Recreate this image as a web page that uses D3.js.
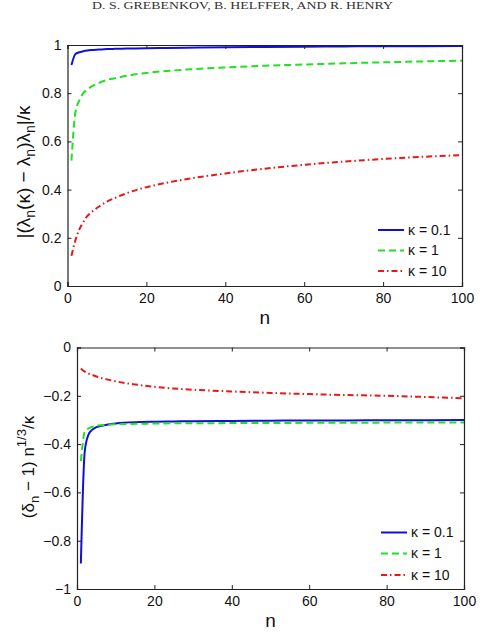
<!DOCTYPE html>
<html><head><meta charset="utf-8">
<script src="https://cdn.jsdelivr.net/npm/d3@7"></script>
<style>body{margin:0;background:#fff}svg{display:block}</style>
</head><body>
<svg id="c" width="483" height="636"></svg>
<script>
const nVals = [1,2,3,4,5,6,8,10,12,15,20,25,30,40,50,60,70,80,90,100];
// top panel: |(lambda_n(kappa) - lambda_n) lambda_n| / kappa
const topK01 = [0.917,0.962,0.970,0.974,0.977,0.979,0.981,0.983,0.984,0.985,0.987,0.988,0.989,0.991,0.992,0.993,0.994,0.995,0.995,0.996];
const topK1  = [0.52,0.72,0.77,0.80,0.815,0.827,0.843,0.855,0.862,0.872,0.884,0.892,0.898,0.907,0.914,0.919,0.924,0.928,0.932,0.935];
const topK10 = [0.125,0.19,0.235,0.265,0.29,0.305,0.33,0.35,0.365,0.385,0.41,0.428,0.443,0.467,0.487,0.503,0.516,0.527,0.536,0.543];
// bottom panel: (delta_n - 1) n^{1/3} / kappa
const botK01 = [-0.894,-0.43,-0.36,-0.34,-0.33,-0.325,-0.319,-0.315,-0.312,-0.309,-0.307,-0.306,-0.305,-0.304,-0.303,-0.302,-0.302,-0.301,-0.301,-0.300];
const botK1  = [-0.47,-0.35,-0.335,-0.328,-0.324,-0.322,-0.32,-0.318,-0.317,-0.316,-0.315,-0.314,-0.314,-0.313,-0.313,-0.312,-0.312,-0.311,-0.311,-0.311];
const botK10 = [-0.087,-0.1,-0.108,-0.114,-0.12,-0.125,-0.133,-0.14,-0.146,-0.153,-0.163,-0.17,-0.175,-0.182,-0.188,-0.193,-0.197,-0.2,-0.205,-0.21];
const xTicks = [0,20,40,60,80,100];
const topYTicks = [0,0.2,0.4,0.6,0.8,1];
const botYTicks = [-1,-0.8,-0.6,-0.4,-0.2,0];
const legendLabels = ["κ = 0.1","κ = 1","κ = 10"];
const colors = ["#1010d8","#22e022","#e81818"];
const dashes = [null,"7,4","6,3,1.5,3"];

const svg = d3.select("#c");
const font = "'Liberation Sans', Arial, sans-serif";

svg.append("text").attr("x",242.5).attr("y",8.5).attr("text-anchor","middle")
  .attr("font-family","'Liberation Serif', serif").attr("font-size",10)
  .attr("textLength",301).attr("lengthAdjust","spacingAndGlyphs").attr("fill","#333")
  .text("D. S. GREBENKOV, B. HELFFER, AND R. HENRY");

function panel(opts){
  const {x0,x1,y0,y1,ydom,yticks,series,yfmt,legY,legX,labelFn} = opts;
  const x = d3.scaleLinear().domain([0,100]).range([x0,x1]);
  const y = d3.scaleLinear().domain(ydom).range([y1,y0]);
  const g = svg.append("g");
  series.forEach((s,i)=>{
    const line = d3.line().x((d,j)=>x(nVals[j])).y(d=>y(d)).curve(d3.curveMonotoneX);
    g.append("path").attr("d",line(s)).attr("fill","none").attr("stroke",colors[i])
      .attr("stroke-width",2).attr("stroke-dasharray",dashes[i]);
  });
  const ax = d3.axisBottom(x).tickValues(xTicks).tickSize(-4).tickPadding(7).tickFormat(d3.format("d"));
  const axT = d3.axisTop(x).tickValues(xTicks).tickSize(-4).tickFormat("");
  const ay = d3.axisLeft(y).tickValues(yticks).tickSize(-4).tickPadding(6).tickFormat(yfmt);
  const ayR = d3.axisRight(y).tickValues(yticks).tickSize(-4).tickFormat("");
  const gx = g.append("g").attr("transform",`translate(0,${y1})`).call(ax);
  g.append("g").attr("transform",`translate(0,${y0})`).call(axT);
  g.append("g").attr("transform",`translate(${x0},0)`).call(ay);
  g.append("g").attr("transform",`translate(${x1},0)`).call(ayR);
  g.selectAll(".domain").attr("stroke","#222").attr("stroke-width",1.2);
  g.selectAll(".tick line").attr("stroke","#222");
  g.selectAll(".tick text").attr("font-family",font).attr("font-size",14).attr("fill","#111");
  gx.selectAll(".tick text").attr("dy","0.71em");
  g.append("text").attr("x",(x0+x1)/2).attr("y",y1+38).attr("text-anchor","middle")
    .attr("font-family",font).attr("font-size",19).attr("fill","#111").text("n");
  labelFn(g);
  legendLabels.forEach((t,i)=>{
    const ly = legY[i];
    g.append("line").attr("x1",legX).attr("x2",legX+26).attr("y1",ly).attr("y2",ly)
      .attr("stroke",colors[i]).attr("stroke-width",2).attr("stroke-dasharray",dashes[i]);
    g.append("text").attr("x",legX+30).attr("y",ly).attr("dy","0.35em")
      .attr("font-family",font).attr("font-size",14).attr("fill","#111").text(t);
  });
}

panel({x0:67.5,x1:462,y0:45,y1:286,ydom:[0,1],yticks:topYTicks,
  series:[topK01,topK1,topK10], yfmt:d=>d===0||d===1?String(d):d3.format(".1f")(d),
  legY:[230,250.5,271], legX:378,
  labelFn:(g)=>{
    const t = g.append("text").attr("transform",`translate(29.5,172) rotate(-90)`)
      .attr("text-anchor","middle").attr("font-family",font).attr("font-size",19).attr("fill","#111");
    const parts = [["|(λ",0],["n",1],["(κ) − λ",0],["n",1],[")λ",0],["n",1],["|/κ",0]];
    let prev=0;
    parts.forEach(([s,sub])=>{
      const dy = sub? 5 : (prev? -5:0);
      t.append("tspan").attr("dy",dy).attr("font-size",sub?14:19).text(s);
      prev=sub;
    });
  }
});

panel({x0:77,x1:464,y0:347.5,y1:589,ydom:[-1,0],yticks:botYTicks,
  series:[botK01,botK1,botK10], yfmt:d=>d===0?"0":d===-1?"−1":d3.format(".1f")(d).replace("-","−"),
  legY:[532.5,553.5,575], legX:381,
  labelFn:(g)=>{
    const t = g.append("text").attr("transform",`translate(34,467) rotate(-90)`)
      .attr("text-anchor","middle").attr("font-family",font).attr("font-size",17).attr("fill","#111");
    t.append("tspan").text("(δ");
    t.append("tspan").attr("dy",5).attr("font-size",13).text("n");
    t.append("tspan").attr("dy",-5).text(" − 1) n");
    t.append("tspan").attr("dy",-8).attr("font-size",13).text("1/3");
    t.append("tspan").attr("dy",8).text("/κ");
  }
});
</script>
</body></html>
